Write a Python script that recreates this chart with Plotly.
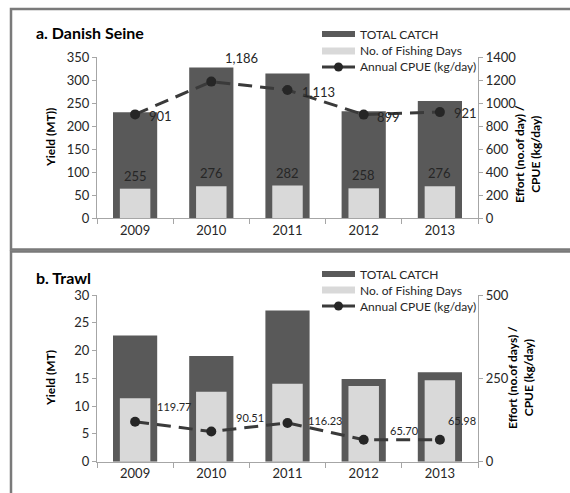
import plotly.graph_objects as go

# ---- data ----
years = ["2009", "2010", "2011", "2012", "2013"]

# a. Danish Seine
catch_a = [229.8, 327.3, 313.9, 231.9, 254.2]      # total catch, MT
days_a = [255, 276, 282, 258, 276]                  # no. of fishing days
cpue_a = [901, 1186, 1113, 899, 921]                # kg/day

# b. Trawl
catch_b = [22.7, 19.0, 27.2, 14.9, 16.1]            # total catch, MT
days_b = [190, 210, 234, 227, 244]                  # no. of fishing days
cpue_b = [119.77, 90.51, 116.23, 65.70, 65.98]      # kg/day

# ---- styling ----
W, H = 570, 493
FONT = "Lato"
DARK = "#595959"
LIGHT = "#d9d9d9"
LINE = "#3a3a3a"
AXIS = "#a6a6a6"
TXT = "#262626"
FRAME = "#7a7a7a"


def px_x(px):
    return px / W


def px_y(py):
    return 1 - py / H


X_DOM = [px_x(97), px_x(478)]
Y_DOM_A = [px_y(218), px_y(57)]
Y_DOM_B = [px_y(461.7), px_y(295)]

fig = go.Figure()

# bars + CPUE line for each panel
for xa, ya, ya2, catch, days, cpue in [
    ("x", "y", "y2", catch_a, days_a, cpue_a),
    ("x2", "y3", "y4", catch_b, days_b, cpue_b),
]:
    fig.add_trace(go.Bar(x=years, y=catch, xaxis=xa, yaxis=ya, width=0.58,
                         offset=-0.29, marker=dict(color=DARK, line_width=0),
                         showlegend=False, hoverinfo="skip"))
    fig.add_trace(go.Bar(x=years, y=days, xaxis=xa, yaxis=ya2, width=0.4,
                         offset=-0.2, marker=dict(color=LIGHT, line_width=0),
                         showlegend=False, hoverinfo="skip"))
    fig.add_trace(go.Scatter(x=years, y=cpue, xaxis=xa, yaxis=ya2,
                             mode="lines+markers",
                             line=dict(color=LINE, width=3, dash="14px,8px"),
                             marker=dict(color="#262626", size=10),
                             showlegend=False, hoverinfo="skip",
                             cliponaxis=False))

ann = []


def label(**kw):
    kw.setdefault("showarrow", False)
    kw.setdefault("xanchor", "center")
    kw.setdefault("yanchor", "middle")
    ann.append(kw)


# fishing-day labels above the light bars (panel a); x uses the category index
for i, d in enumerate(days_a):
    label(x=i, y=d, xref="x", yref="y2", text=str(d), yshift=13,
          font=dict(family=FONT, size=13, color=TXT))

# CPUE value labels
shift_a = [(25, -2), (30, 24), (31, -2), (25, -2), (26, -1)]
for i, (v, (dx, dy)) in enumerate(zip(cpue_a, shift_a)):
    label(x=i, y=v, xref="x", yref="y2", text=f"{v:,}", xshift=dx, yshift=dy,
          font=dict(family=FONT, size=13, color=TXT))

shift_b = [(39, 15), (39, 14), (38, 2), (41, 9), (22, 19)]
for i, (v, (dx, dy)) in enumerate(zip(cpue_b, shift_b)):
    label(x=i, y=v, xref="x2", yref="y4", text=f"{v:.2f}", xshift=dx, yshift=dy,
          font=dict(family=FONT, size=11, color=TXT))

# panel titles
label(x=px_x(34), y=px_y(33), xref="paper", yref="paper", xanchor="left",
      text="<b>a. Danish Seine</b>", font=dict(family=FONT, size=16, color="#000"))
label(x=px_x(34), y=px_y(277), xref="paper", yref="paper", xanchor="left",
      text="<b>b. Trawl</b>", font=dict(family=FONT, size=16, color="#000"))

# axis titles
label(x=px_x(50), y=px_y(138), xref="paper", yref="paper", textangle=-90,
      text="<b>Yield (MT))</b>", font=dict(family=FONT, size=12, color="#000"))
label(x=px_x(50), y=px_y(378), xref="paper", yref="paper", textangle=-90,
      text="<b>Yield (MT)</b>", font=dict(family=FONT, size=12, color="#000"))
label(x=px_x(527), y=px_y(154), xref="paper", yref="paper", textangle=-90,
      text="<b>Effort (no.of day) /<br>CPUE (kg/day)</b>",
      font=dict(family=FONT, size=12, color="#000"))
label(x=px_x(520), y=px_y(378), xref="paper", yref="paper", textangle=-90,
      text="<b>Effort (no.of days) /<br>CPUE (kg/day)</b>",
      font=dict(family=FONT, size=12, color="#000"))

shapes = []

# legends: swatches + labels
legend_labels = ["TOTAL CATCH", "No. of Fishing Days", "Annual CPUE (kg/day)"]
for rows in ([34, 51, 67], [274, 290, 306]):
    sx0, sx1 = 322, 355
    r0, r1, r2 = rows
    shapes.append(dict(type="rect", xref="paper", yref="paper", x0=px_x(sx0), x1=px_x(sx1),
                       y0=px_y(r0 + 3), y1=px_y(r0 - 3), fillcolor=DARK, line_width=0))
    shapes.append(dict(type="rect", xref="paper", yref="paper", x0=px_x(sx0), x1=px_x(sx1),
                       y0=px_y(r1 + 3.5), y1=px_y(r1 - 3.5), fillcolor=LIGHT, line_width=0))
    shapes.append(dict(type="line", xref="paper", yref="paper", x0=px_x(sx0), x1=px_x(sx1),
                       y0=px_y(r2), y1=px_y(r2), line=dict(color=LINE, width=3)))
    shapes.append(dict(type="circle", xref="paper", yref="paper",
                       x0=px_x(338.5 - 4.5), x1=px_x(338.5 + 4.5),
                       y0=px_y(r2 + 4.5), y1=px_y(r2 - 4.5),
                       fillcolor="#262626", line_width=0))
    for lbl, ry in zip(legend_labels, rows):
        label(x=px_x(358), y=px_y(ry), xref="paper", yref="paper", xanchor="left",
              text=lbl, font=dict(family=FONT, size=12, color=TXT))

# panel frames
shapes.append(dict(type="rect", xref="paper", yref="paper", x0=px_x(11), x1=px_x(600),
                   y0=px_y(249.5), y1=px_y(9), line=dict(color=FRAME, width=2.5)))
shapes.append(dict(type="rect", xref="paper", yref="paper", x0=px_x(11), x1=px_x(600),
                   y0=px_y(520), y1=px_y(251.5), line=dict(color=FRAME, width=2.5)))

tickfont = dict(family=FONT, size=13, color=TXT)
xcommon = dict(type="category", range=[-0.5, 4.5], domain=X_DOM, showline=True,
               linecolor=AXIS, linewidth=1.2, ticks="outside", tickson="boundaries",
               ticklen=5, tickcolor=AXIS, tickfont=tickfont, showgrid=False,
               fixedrange=True, automargin=False)
ycommon = dict(showline=True, linecolor=AXIS, linewidth=1.2, ticks="outside",
               ticklen=4, tickcolor=AXIS, tickfont=tickfont, showgrid=False,
               zeroline=False, fixedrange=True, automargin=False)

fig.update_layout(
    width=W, height=H, margin=dict(l=0, r=0, t=0, b=0, autoexpand=False),
    paper_bgcolor="white", plot_bgcolor="white",
    barmode="overlay", showlegend=False,
    font=dict(family=FONT, color=TXT),
    xaxis=dict(**xcommon, anchor="y"),
    yaxis=dict(**ycommon, domain=Y_DOM_A, range=[0, 350], dtick=50, anchor="x"),
    yaxis2=dict(**ycommon, overlaying="y", side="right", anchor="x",
                range=[0, 1400], dtick=200),
    xaxis2=dict(**xcommon, anchor="y3"),
    yaxis3=dict(**ycommon, domain=Y_DOM_B, range=[0, 30], dtick=5, anchor="x2"),
    yaxis4=dict(**ycommon, overlaying="y3", side="right", anchor="x2",
                range=[0, 500], dtick=250),
    annotations=ann,
    shapes=shapes,
)

fig.write_html("out.html")
